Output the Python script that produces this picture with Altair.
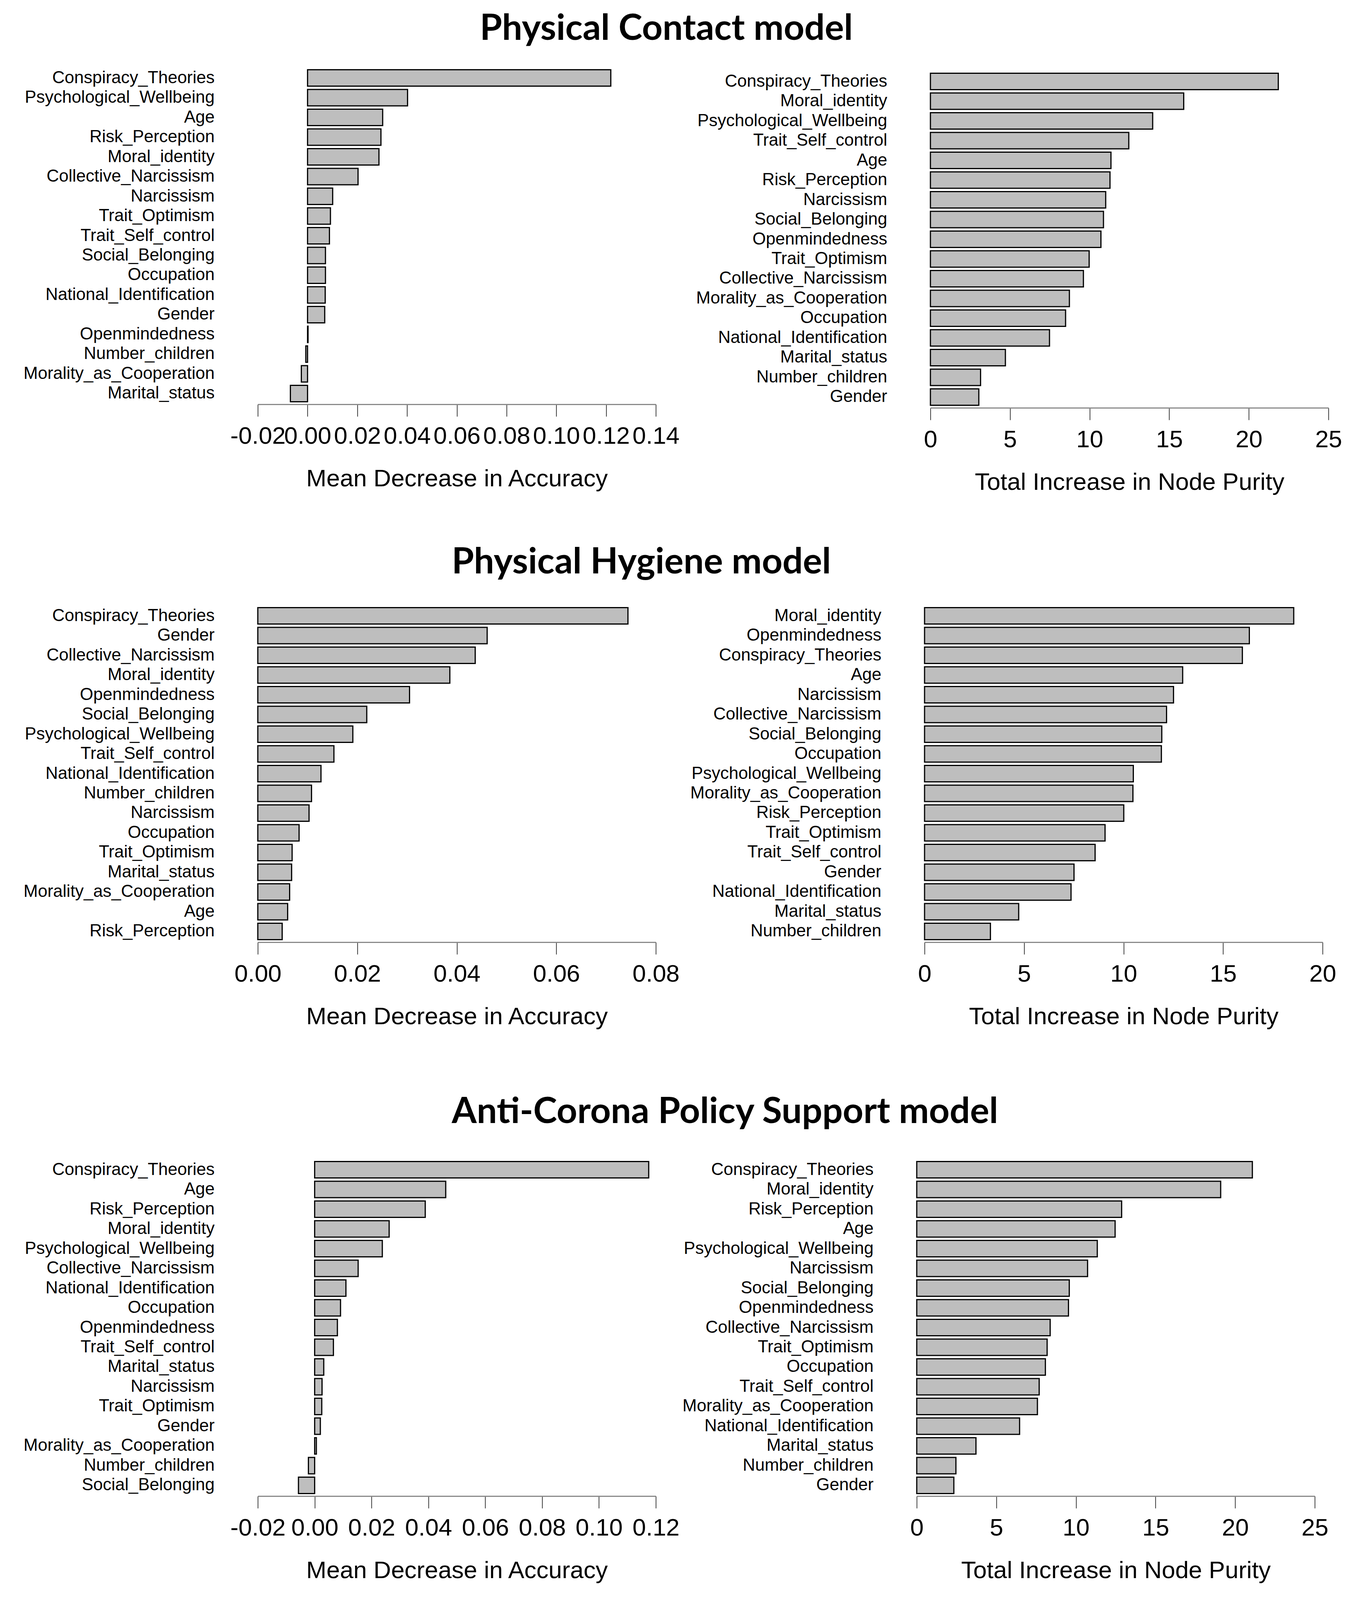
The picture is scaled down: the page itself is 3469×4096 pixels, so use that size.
import altair as alt
import pandas as pd

# ---------------- data ----------------
pc_acc_vars = ["Conspiracy_Theories", "Psychological_Wellbeing", "Age", "Risk_Perception",
               "Moral_identity", "Collective_Narcissism", "Narcissism", "Trait_Optimism",
               "Trait_Self_control", "Social_Belonging", "Occupation", "National_Identification",
               "Gender", "Openmindedness", "Number_children", "Morality_as_Cooperation",
               "Marital_status"]
pc_acc_vals = [0.1219, 0.0402, 0.0302, 0.0295, 0.0287, 0.0203, 0.0101, 0.0092, 0.0088,
               0.0072, 0.0072, 0.0071, 0.0069, 0.0002, -0.0007, -0.0025, -0.0069]

pc_pur_vars = ["Conspiracy_Theories", "Moral_identity", "Psychological_Wellbeing",
               "Trait_Self_control", "Age", "Risk_Perception", "Narcissism", "Social_Belonging",
               "Openmindedness", "Trait_Optimism", "Collective_Narcissism",
               "Morality_as_Cooperation", "Occupation", "National_Identification",
               "Marital_status", "Number_children", "Gender"]
pc_pur_vals = [21.85, 15.91, 13.96, 12.46, 11.34, 11.28, 11.01, 10.87, 10.71, 9.97, 9.61,
               8.73, 8.49, 7.48, 4.71, 3.15, 3.04]

ph_acc_vars = ["Conspiracy_Theories", "Gender", "Collective_Narcissism", "Moral_identity",
               "Openmindedness", "Social_Belonging", "Psychological_Wellbeing",
               "Trait_Self_control", "National_Identification", "Number_children", "Narcissism",
               "Occupation", "Trait_Optimism", "Marital_status", "Morality_as_Cooperation",
               "Age", "Risk_Perception"]
ph_acc_vals = [0.0744, 0.0461, 0.0437, 0.0386, 0.0305, 0.0219, 0.0191, 0.0153, 0.0127,
               0.0108, 0.0103, 0.0083, 0.0069, 0.0068, 0.0064, 0.0060, 0.0049]

ph_pur_vars = ["Moral_identity", "Openmindedness", "Conspiracy_Theories", "Age", "Narcissism",
               "Collective_Narcissism", "Social_Belonging", "Occupation",
               "Psychological_Wellbeing", "Morality_as_Cooperation", "Risk_Perception",
               "Trait_Optimism", "Trait_Self_control", "Gender", "National_Identification",
               "Marital_status", "Number_children"]
ph_pur_vals = [18.55, 16.32, 15.97, 12.97, 12.51, 12.16, 11.92, 11.90, 10.49, 10.47, 10.01,
               9.07, 8.57, 7.51, 7.36, 4.73, 3.31]

ac_acc_vars = ["Conspiracy_Theories", "Age", "Risk_Perception", "Moral_identity",
               "Psychological_Wellbeing", "Collective_Narcissism", "National_Identification",
               "Occupation", "Openmindedness", "Trait_Self_control", "Marital_status",
               "Narcissism", "Trait_Optimism", "Gender", "Morality_as_Cooperation",
               "Number_children", "Social_Belonging"]
ac_acc_vals = [0.1175, 0.0461, 0.0389, 0.0262, 0.0238, 0.0153, 0.0110, 0.0091, 0.0080,
               0.0066, 0.0032, 0.0026, 0.0025, 0.0020, 0.0006, -0.0022, -0.0057]

ac_pur_vars = ["Conspiracy_Theories", "Moral_identity", "Risk_Perception", "Age",
               "Psychological_Wellbeing", "Narcissism", "Social_Belonging", "Openmindedness",
               "Collective_Narcissism", "Trait_Optimism", "Occupation", "Trait_Self_control",
               "Morality_as_Cooperation", "National_Identification", "Marital_status",
               "Number_children", "Gender"]
ac_pur_vals = [21.08, 19.09, 12.87, 12.46, 11.34, 10.73, 9.58, 9.53, 8.38, 8.19, 8.08, 7.69,
               7.58, 6.46, 3.72, 2.46, 2.33]

acc_ticks_1 = [-0.02, 0.0, 0.02, 0.04, 0.06, 0.08, 0.10, 0.12, 0.14]
acc_ticks_2 = [0.0, 0.02, 0.04, 0.06, 0.08]
acc_ticks_3 = [-0.02, 0.0, 0.02, 0.04, 0.06, 0.08, 0.10, 0.12]
pur_ticks_25 = [0, 5, 10, 15, 20, 25]
pur_ticks_20 = [0, 5, 10, 15, 20]

row_titles = ["Physical Contact model", "Physical Hygiene model",
              "Anti-Corona Policy Support model"]
acc_title = "Mean Decrease in Accuracy"
pur_title = "Total Increase in Node Purity"

# ---------------- geometry (output px) ----------------
W = 1019          # plot (axis) width
H = 863           # plot height
LABEL_PAD = 111
FONT = "Liberation Sans"
ACC_EXPR = "datum.value < 0 ? '-' + format(-datum.value, '.2f') : format(datum.value, '.2f')"


def panel(vars_, vals, ticks, xtitle, acc, x_off=0, extra_top=0, title=None):
    df = pd.DataFrame({"var": vars_, "val": vals})
    height = H + extra_top
    if extra_top:
        step = 850 / (17 - 1 / 6)
        po = (13 + extra_top) / 2 / step
        yscale = alt.Scale(paddingInner=1 / 6, paddingOuter=po,
                           align=(6.5 + extra_top) / (13 + extra_top))
    else:
        yscale = alt.Scale(paddingInner=1 / 6, paddingOuter=0.129)
    xaxis_kw = dict(values=ticks, title=xtitle, labelOverlap=False, labelFlush=False,
                    grid=False, tickSize=31, tickColor="black", tickWidth=1.5,
                    domainColor="#8a8a8a", domainWidth=3,
                    labelFontSize=62, labelFont=FONT, labelColor="black", labelPadding=20,
                    titleFontSize=62, titleFont=FONT, titleFontWeight="normal",
                    titleColor="black", titlePadding=48)
    if acc:
        xaxis_kw["labelExpr"] = ACC_EXPR
    else:
        xaxis_kw["format"] = "d"
    ch = alt.Chart(df).mark_bar(color="#bebebe", stroke="black", strokeWidth=3).encode(
        x=alt.X("val:Q",
                scale=alt.Scale(domain=[ticks[0], ticks[-1]], range=[x_off, x_off + W],
                                nice=False, zero=True),
                axis=alt.Axis(**xaxis_kw)),
        y=alt.Y("var:N", sort=vars_, scale=yscale,
                axis=alt.Axis(title=None, domain=False, ticks=False, labelFontSize=44,
                              labelFont=FONT, labelColor="black", labelLimit=2000,
                              labelPadding=LABEL_PAD - x_off)),
    ).properties(width=W + x_off, height=height)
    if title is not None:
        text, dx, off = title
        ch = ch.properties(title=alt.TitleParams(
            text=text, anchor="start", align="center", frame="group", dx=dx, offset=off,
            font="Lato", fontWeight="bold", fontSize=92, color="black"))
    return ch


c1L = panel(pc_acc_vars, pc_acc_vals, acc_ticks_1, acc_title, True,
            title=(row_titles[0], 1046, 51.5))
c1R = panel(pc_pur_vars, pc_pur_vals, pur_ticks_25, pur_title, False, x_off=35,
            extra_top=9)
c2L = panel(ph_acc_vars, ph_acc_vals, acc_ticks_2, acc_title, True,
            title=(row_titles[1], 982, 62.5))
c2R = panel(ph_pur_vars, ph_pur_vals, pur_ticks_20, pur_title, False, x_off=20)
c3L = panel(ac_acc_vars, ac_acc_vals, acc_ticks_3, acc_title, True, extra_top=41,
            title=(row_titles[2], 1196, 32))
c3R = panel(ac_pur_vars, ac_pur_vals, pur_ticks_25, pur_title, False, x_off=0,
            extra_top=41)

# grid with align "all": every row takes the tallest cell height (H + 41)
chart = alt.concat(c1L, c1R, c2L, c2R, c3L, c3R, columns=2,
                   spacing={"row": 473, "column": 633},
                   bounds="flush", align="all").properties(
    padding={"left": 51, "top": 19, "right": 5, "bottom": 5}
).configure(background="white").configure_view(stroke=None)

chart.save("out.html", embed_options={"renderer": "svg", "actions": False})
